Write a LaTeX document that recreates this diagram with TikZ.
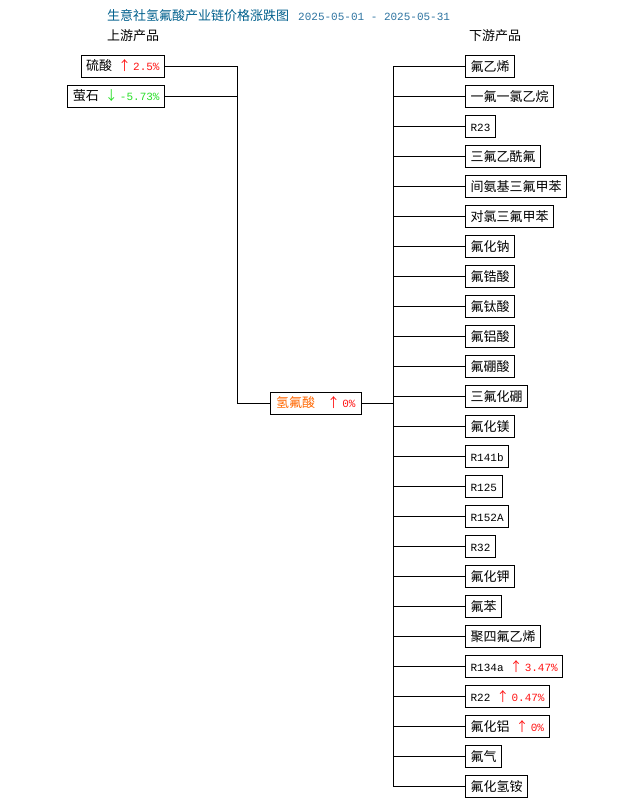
\documentclass[tikz,border=0pt]{standalone}
\usepackage{fontspec}
\setmainfont{Noto Sans CJK SC}
\setmonofont{Liberation Mono}
\usetikzlibrary{matrix,positioning}
\definecolor{titleblue}{RGB}{0,95,140}
\definecolor{dateblue}{RGB}{45,115,160}
\definecolor{upred}{RGB}{255,20,20}
\definecolor{downgreen}{RGB}{40,222,40}
\definecolor{hforange}{RGB}{255,102,0}
\newcommand{\mono}[1]{{\fontsize{11pt}{13pt}\ttfamily #1}}
\newcommand{\upc}[1]{\hspace{6pt}{\color{upred}↑\,\mono{#1}}}
\newcommand{\downc}[1]{\hspace{6pt}{\color{downgreen}↓\,\mono{#1}}}

\begin{document}
\begin{tikzpicture}[x=1pt,y=-1pt,
    font=\fontsize{13pt}{15pt}\selectfont,
    prod/.style={draw, line width=0.8pt, inner xsep=5pt, inner ysep=0pt,
        minimum height=22pt, text height=12pt, text depth=3pt},
    label/.style={inner sep=0pt, anchor=west},
    link/.style={line width=0.8pt}]
\useasboundingbox (0,0) rectangle (630,805);

\node[label] (title) at (107,16) {{\color{titleblue}生意社氢氟酸产业链价格涨跌图}\hspace{9pt}{\fontsize{11pt}{13pt}\ttfamily\color{dateblue}2025-05-01 - 2025-05-31}};
\node[label] (uphead) at (107,36) {上游产品};
\node[label] (downhead) at (469,36) {下游产品};

\node[prod, anchor=east] (so4) at (165,66) {硫酸\upc{2.5\%}};
\node[prod, anchor=east] (caf) at (165,96) {萤石\downc{-5.73\%}};
\node[prod, anchor=west, minimum width=91pt] (hf) at (270,403) {{\color{hforange}氢氟酸}\hspace{6pt}\upc{0\%}};

\matrix (m) [matrix of nodes, row sep=7.2pt, inner sep=0pt, anchor=north west,
    nodes={prod}, column 1/.style={anchor=west}] at (465,55) {
    氟乙烯 \\
    一氟一氯乙烷 \\
    \mono{R23} \\
    三氟乙酰氟 \\
    间氨基三氟甲苯 \\
    对氯三氟甲苯 \\
    氟化钠 \\
    氟锆酸 \\
    氟钛酸 \\
    氟铝酸 \\
    氟硼酸 \\
    三氟化硼 \\
    氟化镁 \\
    \mono{R141b} \\
    \mono{R125} \\
    \mono{R152A} \\
    \mono{R32} \\
    氟化钾 \\
    氟苯 \\
    聚四氟乙烯 \\
    \mono{R134a}\upc{3.47\%} \\
    \mono{R22}\upc{0.47\%} \\
    氟化铝\upc{0\%} \\
    氟气 \\
    氟化氢铵 \\
};

\coordinate (lspine) at (237,0);
\coordinate (rspine) at (393,0);

% upstream side
\draw[link] (so4.east) -- (so4.east -| lspine) -- (hf.west -| lspine) -- (hf.west);
\draw[link] (caf.east) -- (caf.east -| lspine);

% downstream side
\draw[link] (hf.east) -- (hf.east -| rspine);
\draw[link] (m-1-1.west -| rspine) -- (m-25-1.west -| rspine);
\draw[link]
(m-1-1.west -| rspine)edge(m-1-1.west)
(m-2-1.west -| rspine)edge(m-2-1.west)
(m-3-1.west -| rspine)edge(m-3-1.west)
(m-4-1.west -| rspine)edge(m-4-1.west)
(m-5-1.west -| rspine)edge(m-5-1.west)
(m-6-1.west -| rspine)edge(m-6-1.west)
(m-7-1.west -| rspine)edge(m-7-1.west)
(m-8-1.west -| rspine)edge(m-8-1.west)
(m-9-1.west -| rspine)edge(m-9-1.west)
(m-10-1.west -| rspine)edge(m-10-1.west)
(m-11-1.west -| rspine)edge(m-11-1.west)
(m-12-1.west -| rspine)edge(m-12-1.west)
(m-13-1.west -| rspine)edge(m-13-1.west)
(m-14-1.west -| rspine)edge(m-14-1.west)
(m-15-1.west -| rspine)edge(m-15-1.west)
(m-16-1.west -| rspine)edge(m-16-1.west)
(m-17-1.west -| rspine)edge(m-17-1.west)
(m-18-1.west -| rspine)edge(m-18-1.west)
(m-19-1.west -| rspine)edge(m-19-1.west)
(m-20-1.west -| rspine)edge(m-20-1.west)
(m-21-1.west -| rspine)edge(m-21-1.west)
(m-22-1.west -| rspine)edge(m-22-1.west)
(m-23-1.west -| rspine)edge(m-23-1.west)
(m-24-1.west -| rspine)edge(m-24-1.west)
(m-25-1.west -| rspine)edge(m-25-1.west)
;

\end{tikzpicture}
\end{document}
